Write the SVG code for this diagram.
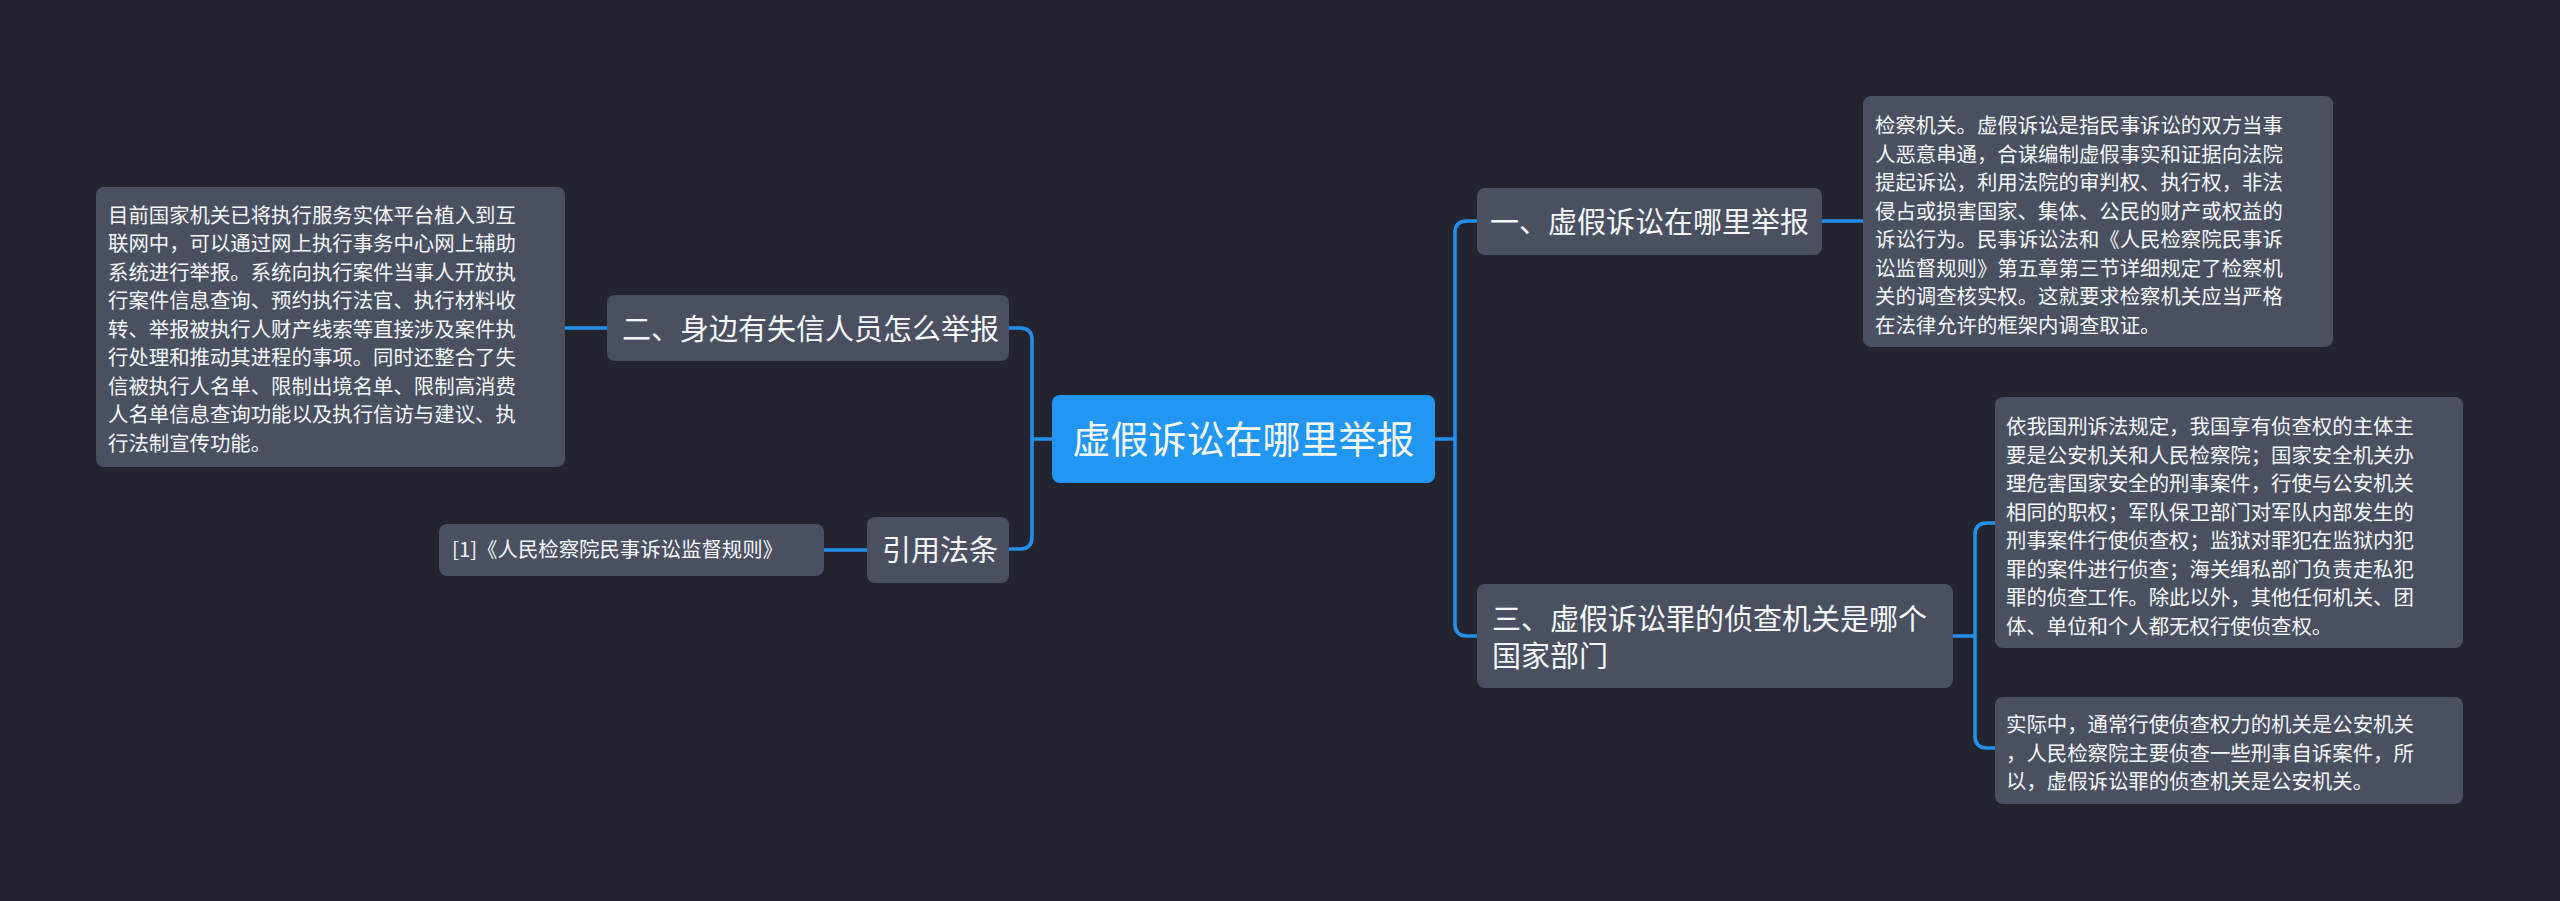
<svg xmlns="http://www.w3.org/2000/svg" width="2560" height="901" viewBox="0 0 2560 901">
<style>
.bg{fill:#22252f}
.node{fill:#4a5060}
.main{fill:#2196f3}
.ln{fill:none;stroke:#2490ec;stroke-width:3.5;stroke-linecap:round;stroke-linejoin:round}
text{font-family:"Noto Sans CJK SC","Noto Sans",sans-serif;fill:#f4f6f8}
.t38{font-size:38px}
.t29{font-size:29px}
.t20{font-size:20.4px}
</style>
<rect class="bg" x="0" y="0" width="2560" height="901"/>
<g id="connectors">
<path class="ln" d="M1052,439 H1032"/>
<path class="ln" d="M1009,328 H1020 Q1032,328 1032,340 V537 Q1032,549 1020,549 H1009"/>
<path class="ln" d="M607,328 H565"/>
<path class="ln" d="M867,550 H824"/>
<path class="ln" d="M1435,439 H1455"/>
<path class="ln" d="M1477,221 H1467 Q1455,221 1455,233 V624 Q1455,636 1467,636 H1477"/>
<path class="ln" d="M1822,221 H1863"/>
<path class="ln" d="M1953,636 H1975"/>
<path class="ln" d="M1995,523 H1987 Q1975,523 1975,535 V736 Q1975,748 1987,748 H1995"/>
</g>
<g id="root">
<rect class="main" x="1052" y="395" width="383" height="88" rx="8"/>
<text class="t38" x="1243.5" y="453" text-anchor="middle">虚假诉讼在哪里举报</text>
</g>
<g id="n2">
<rect class="node" x="607" y="295" width="402" height="66" rx="8"/>
<text class="t29" x="622" y="340">二、身边有失信人员怎么举报</text>
</g>
<g id="n2d">
<rect class="node" x="96" y="187" width="469" height="280" rx="8"/>
<text class="t20" x="108" y="222.5">目前国家机关已将执行服务实体平台植入到互</text>
<text class="t20" x="108" y="251">联网中，可以通过网上执行事务中心网上辅助</text>
<text class="t20" x="108" y="279.5">系统进行举报。系统向执行案件当事人开放执</text>
<text class="t20" x="108" y="308">行案件信息查询、预约执行法官、执行材料收</text>
<text class="t20" x="108" y="336.5">转、举报被执行人财产线索等直接涉及案件执</text>
<text class="t20" x="108" y="365">行处理和推动其进程的事项。同时还整合了失</text>
<text class="t20" x="108" y="393.5">信被执行人名单、限制出境名单、限制高消费</text>
<text class="t20" x="108" y="422">人名单信息查询功能以及执行信访与建议、执</text>
<text class="t20" x="108" y="450.5">行法制宣传功能。</text>
</g>
<g id="nref">
<rect class="node" x="867" y="517" width="142" height="66" rx="8"/>
<text class="t29" x="882" y="561">引用法条</text>
</g>
<g id="nrefd">
<rect class="node" x="439" y="524" width="385" height="52" rx="8"/>
<text class="t20" x="452" y="557">[1]《人民检察院民事诉讼监督规则》</text>
</g>
<g id="n1">
<rect class="node" x="1477" y="188" width="345" height="67" rx="8"/>
<text class="t29" x="1490" y="233">一、虚假诉讼在哪里举报</text>
</g>
<g id="n1d">
<rect class="node" x="1863" y="96" width="470" height="251" rx="8"/>
<text class="t20" x="1875" y="133">检察机关。虚假诉讼是指民事诉讼的双方当事</text>
<text class="t20" x="1875" y="161.5">人恶意串通，合谋编制虚假事实和证据向法院</text>
<text class="t20" x="1875" y="190">提起诉讼，利用法院的审判权、执行权，非法</text>
<text class="t20" x="1875" y="218.5">侵占或损害国家、集体、公民的财产或权益的</text>
<text class="t20" x="1875" y="247">诉讼行为。民事诉讼法和《人民检察院民事诉</text>
<text class="t20" x="1875" y="275.5">讼监督规则》第五章第三节详细规定了检察机</text>
<text class="t20" x="1875" y="304">关的调查核实权。这就要求检察机关应当严格</text>
<text class="t20" x="1875" y="332.5">在法律允许的框架内调查取证。</text>
</g>
<g id="n3">
<rect class="node" x="1477" y="584" width="476" height="104" rx="8"/>
<text class="t29" x="1492" y="630">三、虚假诉讼罪的侦查机关是哪个</text>
<text class="t29" x="1492" y="667">国家部门</text>
</g>
<g id="n3d1">
<rect class="node" x="1995" y="397" width="468" height="251" rx="8"/>
<text class="t20" x="2006" y="434">依我国刑诉法规定，我国享有侦查权的主体主</text>
<text class="t20" x="2006" y="462.5">要是公安机关和人民检察院；国家安全机关办</text>
<text class="t20" x="2006" y="491">理危害国家安全的刑事案件，行使与公安机关</text>
<text class="t20" x="2006" y="519.5">相同的职权；军队保卫部门对军队内部发生的</text>
<text class="t20" x="2006" y="548">刑事案件行使侦查权；监狱对罪犯在监狱内犯</text>
<text class="t20" x="2006" y="576.5">罪的案件进行侦查；海关缉私部门负责走私犯</text>
<text class="t20" x="2006" y="605">罪的侦查工作。除此以外，其他任何机关、团</text>
<text class="t20" x="2006" y="633.5">体、单位和个人都无权行使侦查权。</text>
</g>
<g id="n3d2">
<rect class="node" x="1995" y="697" width="468" height="107" rx="8"/>
<text class="t20" x="2006" y="732">实际中，通常行使侦查权力的机关是公安机关</text>
<text class="t20" x="2006" y="760.5">，人民检察院主要侦查一些刑事自诉案件，所</text>
<text class="t20" x="2006" y="789">以，虚假诉讼罪的侦查机关是公安机关。</text>
</g>
</svg>
